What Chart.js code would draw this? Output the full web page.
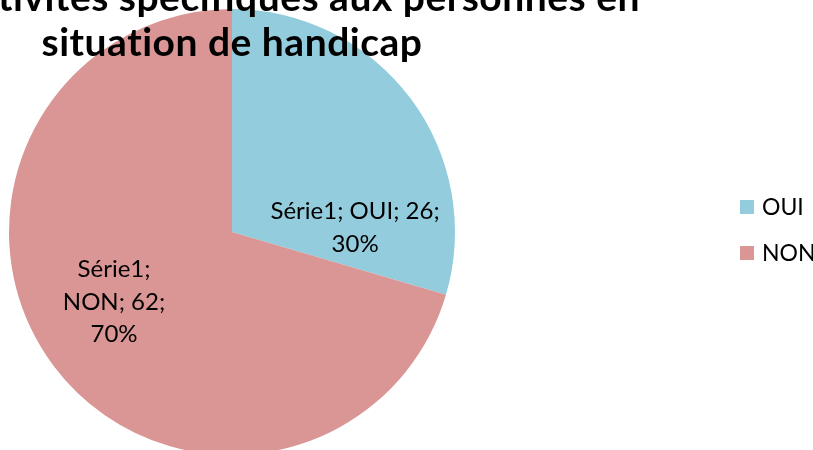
<!DOCTYPE html>
<html>
<head>
<meta charset="utf-8">
<script src="https://cdn.jsdelivr.net/npm/chart.js@4/dist/chart.umd.min.js"></script>
<style>
  html, body { margin:0; padding:0; background:#fff; }
  #wrap { width:813px; height:450px; overflow:hidden; position:relative; }
  canvas { display:block; font-variant-ligatures:none; }
</style>
</head>
<body>
<div id="wrap"><canvas id="pie" width="813" height="470"></canvas></div>
<script>
// data
const seriesName = 'Série1';
const categories = ['OUI', 'NON'];
const values = [26, 62];
const colors = ['#93CDDD', '#D99694'];
const titleLines = ['Activités spécifiques aux personnes en', 'situation de handicap'];

// label placement (fraction of radius from pie centre) and wrap width
const labelAnchor = [[0.552, -0.018], [-0.529, 0.314]];
const labelWrap = [180, 110];

const FONT = 'Lato, "Open Sans", sans-serif';

function wrapText(ctx, text, maxW){
  const words = text.split(' ');
  const lines = []; let cur = '';
  for(const w of words){
    const t = cur ? cur + ' ' + w : w;
    if(cur && ctx.measureText(t).width > maxW){ lines.push(cur); cur = w; }
    else cur = t;
  }
  if(cur) lines.push(cur);
  return lines;
}

// title + data labels + legend drawn on top
const decor = {
  id:'decor',
  afterDraw(chart){
    const ctx = chart.ctx;
    const meta = chart.getDatasetMeta(0);
    const arc0 = meta.data[0];
    const cx = arc0.x, cy = arc0.y, r = arc0.outerRadius;
    const total = values.reduce((a,b)=>a+b,0);
    ctx.save();

    // data labels
    ctx.fillStyle = '#000';
    ctx.font = '24px ' + FONT;
    ctx.textAlign = 'center';
    ctx.textBaseline = 'middle';
    const lh = 32.5;
    meta.data.forEach((arc,i)=>{
      const pct = Math.round(values[i]/total*100);
      const txt = seriesName + '; ' + categories[i] + '; ' + values[i] + '; ' + pct + '%';
      const lines = wrapText(ctx, txt, labelWrap[i]);
      const x = cx + labelAnchor[i][0]*r;
      const y = cy + labelAnchor[i][1]*r;
      lines.forEach((ln,k)=>{
        ctx.fillText(ln, x, y + (k - (lines.length-1)/2)*lh);
      });
    });

    // title (letter spacing also stops the "ti" ligature)
    ctx.font = 'bold 39px ' + FONT;
    if('letterSpacing' in ctx) ctx.letterSpacing = '0.5px';
    ctx.textBaseline = 'alphabetic';
    ctx.textAlign = 'right';
    ctx.fillText(titleLines[0], 640, 11);
    ctx.textAlign = 'center';
    ctx.fillText(titleLines[1], cx, 56);
    if('letterSpacing' in ctx) ctx.letterSpacing = '0px';

    // legend
    ctx.font = '23px ' + FONT;
    ctx.textAlign = 'left';
    ctx.textBaseline = 'middle';
    categories.forEach((c,i)=>{
      const y = 207 + i*46;
      ctx.fillStyle = colors[i];
      ctx.fillRect(740, y-7, 14, 14);
      ctx.fillStyle = '#000';
      ctx.fillText(c, 762, y+1);
    });
    ctx.restore();
  }
};

new Chart(document.getElementById('pie').getContext('2d'), {
  type:'pie',
  data:{ labels:categories, datasets:[{ label:seriesName, data:values, backgroundColor:colors, borderWidth:0, hoverOffset:0 }] },
  options:{
    responsive:false,
    devicePixelRatio:1,
    animation:false,
    layout:{ padding:{ left:9, top:9, right:358, bottom:15 } },
    plugins:{ legend:{ display:false }, tooltip:{ enabled:false }, title:{ display:false } }
  },
  plugins:[decor]
});
</script>
</body>
</html>
